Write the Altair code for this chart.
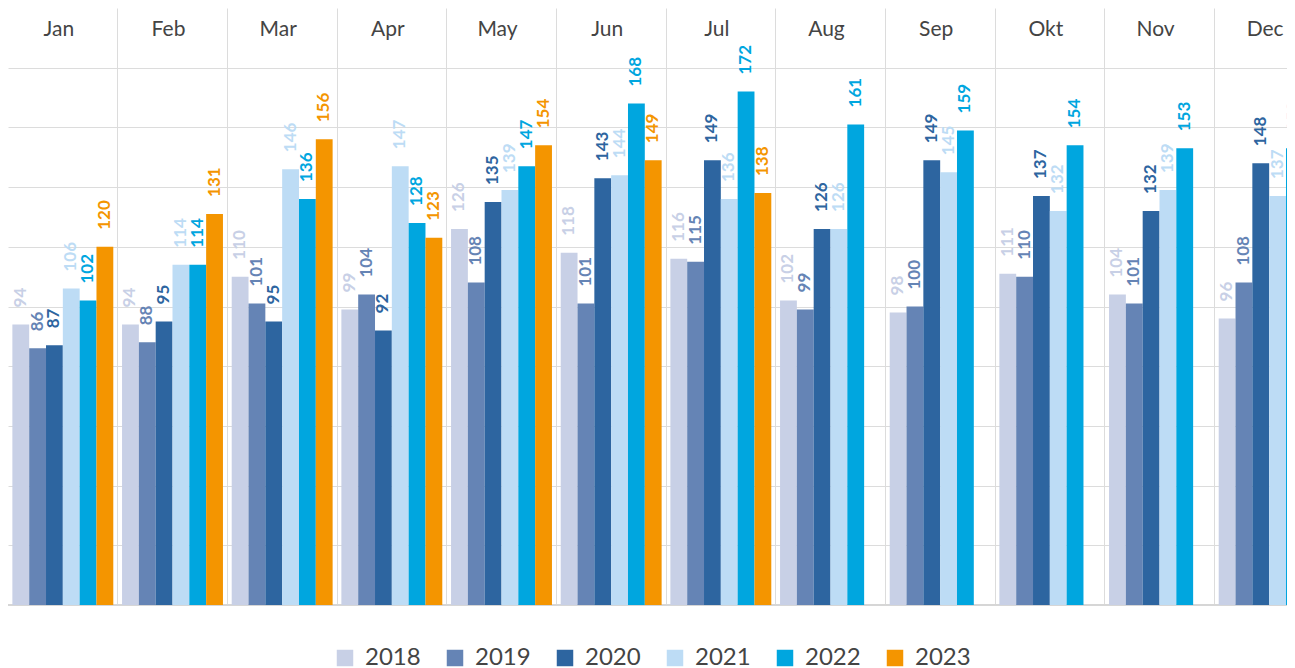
import altair as alt
import pandas as pd

months = ["Jan", "Feb", "Mar", "Apr", "May", "Jun", "Jul", "Aug", "Sep", "Okt", "Nov", "Dec"]
years = ["2018", "2019", "2020", "2021", "2022", "2023"]
v2018 = [94, 94, 110, 99, 126, 118, 116, 102, 98, 111, 104, 96]
v2019 = [86, 88, 101, 104, 108, 101, 115, 99, 100, 110, 101, 108]
v2020 = [87, 95, 95, 92, 135, 143, 149, 126, 149, 137, 132, 148]
v2021 = [106, 114, 146, 147, 139, 144, 136, 126, 145, 132, 139, 137]
v2022 = [102, 114, 136, 128, 147, 168, 172, 161, 159, 154, 153, 153]
v2023 = [120, 131, 156, 123, 154, 149, 138, None, None, None, None, None]
colors = ["#c8d0e6", "#6584b5", "#2d65a0", "#bddcf5", "#00a6df", "#f49500"]

series = [v2018, v2019, v2020, v2021, v2022, v2023]
rows = []
for yr, vals in zip(years, series):
    for m, v in zip(months, vals):
        if v is not None:
            rows.append({"month": m, "year": yr, "value": v})
df = pd.DataFrame(rows)
hdr = pd.DataFrame({"month": months})
base0 = pd.DataFrame({"v": [0]})

FONT = "Lato"
GRID = "#dcdcdc"
PLOT_W = 1279
PANELS_W = 1316
PLOT_H = 597

x_enc = alt.X(
    "month:N",
    sort=months,
    scale=alt.Scale(domain=months, paddingInner=0, paddingOuter=0, range=[0, PANELS_W]),
    axis=alt.Axis(
        title=None, labels=False, ticks=False, domain=False, grid=True,
        bandPosition=0, orient="top",
        gridColor={"condition": {"test": "datum.value === 'Jan'", "value": "transparent"}, "value": GRID},
    ),
)
xo_enc = alt.XOffset("year:N", scale=alt.Scale(domain=years, paddingInner=0, paddingOuter=0.26))
y_enc = alt.Y(
    "value:Q",
    scale=alt.Scale(domain=[0, 200], nice=False, zero=True),
    axis=alt.Axis(values=list(range(0, 181, 20)), labels=False, ticks=False, domain=False,
                  title=None, gridColor=GRID),
)
legend = alt.Legend(
    orient="none", legendX=325, legendY=638, direction="horizontal", title=None,
    symbolType="square", symbolSize=272, symbolStrokeWidth=0,
    labelFontSize=24, labelFont=FONT, labelColor="#444444",
    columnPadding=22, labelOffset=8, padding=0,
)
c_enc = alt.Color("year:N", scale=alt.Scale(domain=years, range=colors), legend=legend)

bars = alt.Chart(df).mark_bar().encode(x=x_enc, xOffset=xo_enc, y=y_enc, color=c_enc)

labels = alt.Chart(df).mark_text(
    angle=270, align="left", baseline="middle", dx=17, fontSize=17, fontWeight="bold", font=FONT
).encode(x=x_enc, xOffset=xo_enc, y=y_enc, text="value:Q", color=c_enc)

headers = alt.Chart(hdr).mark_text(fontSize=21, color="#444444", font=FONT, dx=-4).encode(
    x=x_enc, y=alt.value(22), text="month:N"
)

baseline = alt.Chart(base0).mark_rule(color="#d6d6d6", strokeWidth=2).encode(
    y=alt.Y("v:Q", scale=alt.Scale(domain=[0, 200]))
)

chart = alt.layer(baseline, bars, labels, headers).properties(
    width=PLOT_W, height=PLOT_H,
    padding={"left": 0, "top": 0, "right": 0, "bottom": 64},
    autosize=alt.AutoSizeParams(type="none"),
).configure_view(stroke=None)

chart.save("out.html", embed_options={"renderer": "svg", "actions": False})
